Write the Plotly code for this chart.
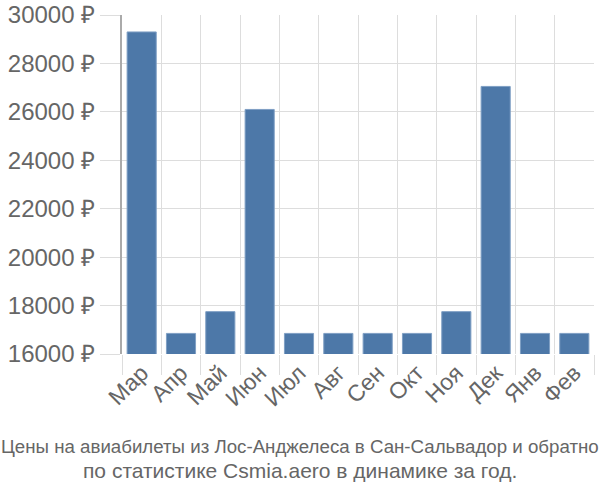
import plotly.graph_objects as go

months = ["Мар", "Апр", "Май", "Июн", "Июл", "Авг", "Сен", "Окт", "Ноя", "Дек", "Янв", "Фев"]
prices = [29300, 16850, 17750, 26100, 16850, 16850, 16850, 16850, 17750, 27050, 16850, 16850]
y_ticks = [16000, 18000, 20000, 22000, 24000, 26000, 28000, 30000]
y_labels = [f"{v} ₽" for v in y_ticks]

fig = go.Figure(go.Bar(
    x=months, y=prices,
    marker=dict(color="#4d78a8", line=dict(color="#7f9fc4", width=1)),
    width=0.74,
))

fig.update_layout(
    width=600, height=500,
    margin=dict(l=122, r=6, t=15, b=146),
    paper_bgcolor="white", plot_bgcolor="white",
    font=dict(family="Liberation Sans, Arial, sans-serif", color="#666666"),
    showlegend=False,
    xaxis=dict(
        tickson="boundaries", ticks="outside", ticklen=20, tickcolor="#dddddd",
        showgrid=True, gridcolor="#dddddd", gridwidth=1,
        tickangle=-45, tickfont=dict(size=23, color="#666666"),
        showline=False, automargin=False,
    ),
    yaxis=dict(
        range=[16000, 30000], tickvals=y_ticks, ticktext=y_labels,
        ticks="outside", ticklen=20, tickcolor="#dddddd",
        showgrid=True, gridcolor="#dddddd", gridwidth=1,
        tickfont=dict(size=24, color="#666666"),
        showline=True, linecolor="#aaaaaa", linewidth=2,
        zeroline=False, automargin=False,
    ),
)

fig.add_annotation(
    text="Цены на авиабилеты из Лос-Анджелеса в Сан-Сальвадор и обратно",
    xref="paper", yref="paper", x=(300 - 122) / 472, xanchor="center",
    y=-(446 - 354) / 339, yanchor="middle", showarrow=False,
    font=dict(size=18.7, color="#666666", family="Liberation Sans, Arial, sans-serif"),
)
fig.add_annotation(
    text="по статистике Csmia.aero в динамике за год.",
    xref="paper", yref="paper", x=(300 - 122) / 472, xanchor="center",
    y=-(470 - 354) / 339, yanchor="middle", showarrow=False,
    font=dict(size=21, color="#666666", family="Liberation Sans, Arial, sans-serif"),
)

fig.write_html("out.html")
